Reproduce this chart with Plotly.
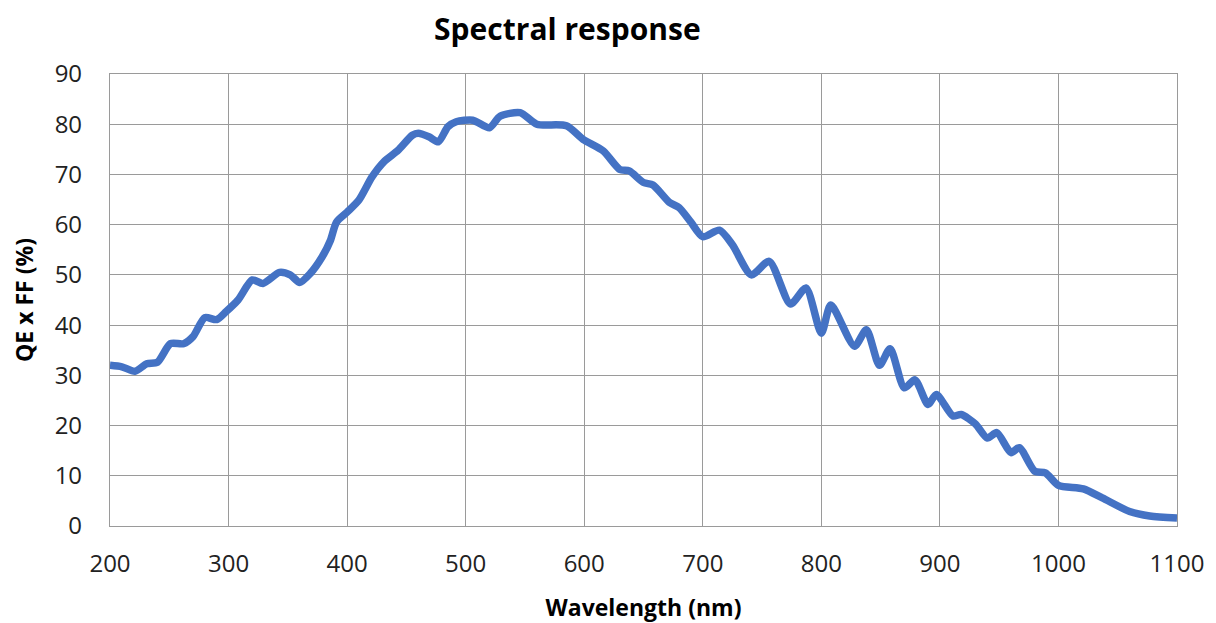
import plotly.graph_objects as go

wavelength = [200, 210, 221, 231, 240, 251, 262, 270, 280, 290, 298, 308, 320, 329, 343, 352, 360, 369,
              379, 386, 391, 400, 410, 421, 431, 443, 455, 460, 469, 477, 485, 492, 506, 520, 529, 546,
              560, 585, 599, 616, 630, 638, 650, 658, 672, 680, 690, 700, 714, 725, 741, 756, 774, 787,
              800, 808, 828, 838, 849, 858, 870, 879, 890, 897, 911, 918, 930, 940, 948, 960, 967, 980,
              989, 1000, 1021, 1037, 1060, 1077, 1100]
qe_ff = [32, 31.7, 30.8, 32.3, 32.6, 36.3, 36.3, 37.7, 41.5, 41.1, 42.7, 45, 49, 48.3, 50.5, 50, 48.5, 50.3,
         53.6, 56.9, 60.5, 62.5, 64.9, 69.5, 72.5, 74.8, 77.8, 78.2, 77.5, 76.5, 79.5, 80.5, 80.8, 79.3, 81.6, 82.3,
         80, 79.7, 77, 74.7, 71, 70.7, 68.4, 67.9, 64.4, 63.4, 60.5, 57.6, 58.9, 56, 50, 52.7, 44.2, 47.4,
         38.4, 44, 35.8, 39.1, 32, 35.3, 27.5, 29.1, 24.2, 26.2, 21.9, 22.2, 20.3, 17.5, 18.6, 14.6, 15.6, 10.9,
         10.6, 8.1, 7.4, 5.6, 2.9, 2.0, 1.6]

x_ticks = [200, 300, 400, 500, 600, 700, 800, 900, 1000, 1100]
y_ticks = [0, 10, 20, 30, 40, 50, 60, 70, 80, 90]

fig = go.Figure()
fig.add_trace(go.Scatter(
    x=wavelength, y=qe_ff, mode="lines",
    line=dict(color="#4472C4", width=7.5, shape="spline", smoothing=0.7),
    showlegend=False, hoverinfo="x+y"))

font_family = "Open Sans, Liberation Sans, sans-serif"
grid_c = "#9a9a9a"
fig.update_layout(
    width=1216, height=623,
    paper_bgcolor="white", plot_bgcolor="white",
    margin=dict(l=102, r=47, t=66, b=105),
    title=dict(text="<b>Spectral response</b>", x=0.46, xanchor="center", y=0.965, yanchor="middle",
               font=dict(family=font_family, size=30, color="black")),
    font=dict(family=font_family, color="black"),
)
fig.update_xaxes(
    range=[200, 1100], tickvals=x_ticks, ticktext=[str(v) for v in x_ticks],
    showgrid=True, gridcolor=grid_c, gridwidth=1.2,
    showline=True, linecolor=grid_c, linewidth=1.2, mirror=True,
    zeroline=False, ticks="", tickfont=dict(size=24, family=font_family, color="#222"),
    ticklabelstandoff=16,
    title=dict(text="<b>Wavelength (nm)</b>", font=dict(size=23, family=font_family), standoff=21),
)
fig.update_yaxes(
    range=[0, 90], tickvals=y_ticks, ticktext=[str(v) for v in y_ticks],
    showgrid=True, gridcolor=grid_c, gridwidth=1.2,
    showline=True, linecolor=grid_c, linewidth=1.2, mirror=True,
    zeroline=False, ticks="", tickfont=dict(size=24, family=font_family, color="#222"),
    ticklabelstandoff=22,
    title=dict(text="<b>QE x FF (%)</b>", font=dict(size=23, family=font_family), standoff=17),
)

fig.write_html("out.html")
